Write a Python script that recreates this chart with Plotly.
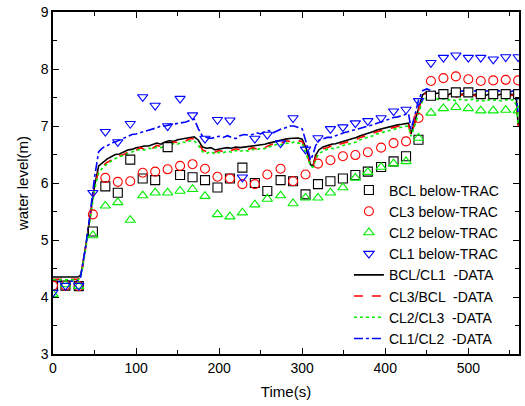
import plotly.graph_objects as go

# ---- marker series (TRAC calculation) ----
t_trac = [0, 15, 31, 48, 63, 78, 93, 108, 123, 138, 153, 168, 183, 198, 213, 228, 243, 258, 274,
          289, 304, 319, 334, 349, 364, 379, 395, 410, 425, 440, 455, 470, 485, 500, 515, 530, 545, 560]
bcl_trac = [4.20, 4.20, 4.19, 5.15, 5.94, 5.83, 6.41, 6.08, 6.05, 6.63, 6.14, 6.10, 6.05, 5.92, 6.08,
            6.27, 6.00, 5.86, 6.05, 6.03, 5.80, 5.98, 6.03, 6.08, 6.14, 6.20, 6.28, 6.38, 6.47, 6.76,
            7.53, 7.56, 7.59, 7.59, 7.56, 7.56, 7.56, 7.56]
cl3_trac = [4.20, 4.20, 4.19, 5.45, 6.09, 6.02, 6.03, 6.18, 6.20, 6.24, 6.30, 6.33, 6.25, 6.11, 6.08,
            5.98, 5.98, 6.15, 6.25, 6.03, 6.15, 6.34, 6.40, 6.47, 6.49, 6.54, 6.62, 6.70, 6.73, 7.14,
            7.79, 7.84, 7.87, 7.82, 7.79, 7.80, 7.81, 7.80]
cl2_trac = [4.05, 4.22, 4.19, 5.08, 5.60, 5.66, 5.35, 5.78, 5.83, 5.83, 5.86, 5.89, 5.77, 5.45, 5.41,
            5.48, 5.62, 5.72, 5.78, 5.64, 5.74, 5.74, 5.83, 5.92, 6.09, 6.19, 6.28, 6.34, 6.38, 6.79,
            7.23, 7.31, 7.33, 7.31, 7.27, 7.27, 7.28, 7.27]
cl1_trac = [4.08, 4.20, 4.20, 5.83, 6.90, 6.72, 7.04, 7.51, 7.36, 7.00, 7.48, 7.19, 6.78, 7.11, 7.10,
            6.10, 6.78, 6.85, 6.70, 7.14, 6.59, 6.79, 6.95, 6.98, 7.05, 7.09, 7.14, 7.26, 7.29, 7.44,
            8.11, 8.20, 8.24, 8.20, 8.20, 8.17, 8.21, 8.21]

# ---- line series (experimental data) ----
t_data = [0, 2, 5, 10, 15, 20, 25, 30, 33, 35, 40, 45, 50, 55, 60, 65, 70, 75, 80, 85, 90, 95,
          100, 105, 110, 115, 120, 125, 130, 135, 140, 145, 150, 155, 160, 165, 170, 175, 180, 185,
          190, 195, 200, 205, 210, 215, 220, 225, 230, 235, 240, 245, 250, 255, 260, 265, 270, 275,
          280, 285, 290, 295, 300, 305, 310, 313, 316, 320, 325, 330, 335, 340, 345, 350, 355, 360,
          365, 370, 375, 380, 385, 390, 395, 400, 405, 410, 415, 420, 425, 428, 431, 435, 440, 445,
          450, 455, 460, 465, 470, 475, 480, 485, 490, 495, 500, 505, 510, 515, 520, 525, 530, 535,
          540, 545, 550, 555, 558, 560]
bcl_cl1 = [4.35, 4.35, 4.35, 4.34, 4.35, 4.35, 4.34, 4.35, 4.38, 4.50, 4.95, 5.45, 5.95, 6.30, 6.36,
           6.42, 6.46, 6.50, 6.51, 6.55, 6.58, 6.59, 6.62, 6.63, 6.65, 6.65, 6.68, 6.70, 6.68, 6.72,
           6.74, 6.73, 6.76, 6.77, 6.79, 6.80, 6.81, 6.75, 6.63, 6.61, 6.62, 6.58, 6.60, 6.61, 6.62,
           6.61, 6.63, 6.62, 6.63, 6.64, 6.65, 6.66, 6.66, 6.68, 6.70, 6.72, 6.74, 6.75, 6.77, 6.78,
           6.78, 6.79, 6.77, 6.60, 6.32, 6.30, 6.48, 6.58, 6.63, 6.66, 6.68, 6.69, 6.71, 6.73, 6.75,
           6.77, 6.80, 6.83, 6.85, 6.88, 6.90, 6.93, 6.95, 6.96, 6.98, 7.00, 7.02, 7.03, 7.05, 7.05,
           6.86, 7.05, 7.30, 7.55, 7.60, 7.58, 7.57, 7.58, 7.56, 7.54, 7.58, 7.52, 7.55, 7.57, 7.55,
           7.54, 7.56, 7.55, 7.53, 7.56, 7.55, 7.54, 7.56, 7.55, 7.56, 7.55, 7.45, 7.02]
cl3_bcl = [4.31, 4.31, 4.31, 4.30, 4.31, 4.31, 4.30, 4.31, 4.36, 4.48, 4.93, 5.43, 5.92, 6.22, 6.30,
           6.36, 6.40, 6.46, 6.48, 6.50, 6.54, 6.57, 6.58, 6.62, 6.59, 6.63, 6.61, 6.66, 6.64, 6.69,
           6.70, 6.72, 6.71, 6.75, 6.74, 6.78, 6.77, 6.70, 6.58, 6.55, 6.58, 6.54, 6.57, 6.55, 6.59,
           6.57, 6.60, 6.58, 6.61, 6.59, 6.62, 6.60, 6.64, 6.62, 6.66, 6.69, 6.71, 6.70, 6.74, 6.73,
           6.76, 6.74, 6.73, 6.55, 6.30, 6.28, 6.44, 6.55, 6.60, 6.62, 6.65, 6.63, 6.68, 6.70, 6.72,
           6.74, 6.76, 6.80, 6.82, 6.85, 6.87, 6.90, 6.92, 6.93, 6.96, 6.97, 7.00, 7.01, 7.03, 7.02,
           6.84, 7.02, 7.28, 7.53, 7.58, 7.55, 7.57, 7.53, 7.56, 7.52, 7.56, 7.50, 7.54, 7.55, 7.53,
           7.55, 7.52, 7.55, 7.51, 7.54, 7.53, 7.55, 7.52, 7.54, 7.53, 7.54, 7.40, 7.00]
cl2_cl3 = [4.30, 4.30, 4.30, 4.29, 4.30, 4.30, 4.29, 4.30, 4.34, 4.46, 4.90, 5.40, 5.88, 6.18, 6.27,
           6.33, 6.38, 6.43, 6.46, 6.49, 6.52, 6.55, 6.57, 6.59, 6.58, 6.61, 6.60, 6.63, 6.62, 6.66,
           6.67, 6.69, 6.68, 6.72, 6.71, 6.74, 6.74, 6.66, 6.55, 6.52, 6.55, 6.51, 6.54, 6.53, 6.56,
           6.54, 6.57, 6.55, 6.58, 6.56, 6.59, 6.58, 6.61, 6.60, 6.63, 6.66, 6.68, 6.67, 6.70, 6.69,
           6.72, 6.70, 6.70, 6.50, 6.30, 6.28, 6.40, 6.52, 6.56, 6.59, 6.61, 6.60, 6.64, 6.66, 6.68,
           6.70, 6.72, 6.76, 6.78, 6.81, 6.83, 6.86, 6.88, 6.90, 6.93, 6.94, 6.97, 6.98, 7.00, 6.99,
           6.82, 6.98, 7.22, 7.45, 7.50, 7.48, 7.49, 7.46, 7.48, 7.45, 7.47, 7.44, 7.47, 7.46, 7.45,
           7.47, 7.44, 7.46, 7.43, 7.46, 7.45, 7.46, 7.44, 7.46, 7.45, 7.46, 7.35, 7.00]
cl1_cl2 = [4.12, 4.27, 4.27, 4.27, 4.27, 4.27, 4.27, 4.28, 4.33, 4.50, 4.95, 5.50, 6.10, 6.55, 6.62,
           6.65, 6.70, 6.72, 6.75, 6.78, 6.82, 6.85, 6.86, 6.88, 6.90, 6.93, 6.95, 6.97, 7.00, 7.00,
           7.02, 7.03, 7.04, 7.05, 7.07, 7.10, 7.12, 6.95, 6.82, 6.80, 6.78, 6.80, 6.82, 6.80, 6.83,
           6.80, 6.78, 6.83, 6.85, 6.84, 6.85, 6.88, 6.86, 6.90, 6.92, 6.88, 6.92, 6.95, 6.97, 7.00,
           7.00, 6.98, 6.95, 6.70, 6.40, 6.50, 6.65, 6.75, 6.78, 6.80, 6.80, 6.83, 6.85, 6.88, 6.90,
           6.92, 6.93, 6.95, 6.97, 7.00, 7.02, 7.05, 7.08, 7.10, 7.12, 7.15, 7.16, 7.18, 7.20, 7.22,
           6.95, 7.15, 7.45, 7.62, 7.65, 7.62, 7.60, 7.62, 7.60, 7.61, 7.62, 7.59, 7.61, 7.62, 7.60,
           7.61, 7.62, 7.60, 7.61, 7.62, 7.60, 7.62, 7.61, 7.62, 7.60, 7.62, 7.50, 7.20]

x_ticks = [0, 100, 200, 300, 400, 500]
y_ticks = [3, 4, 5, 6, 7, 8, 9]

FONT = "Liberation Sans, Arial"

fig = go.Figure()

lines = [
    ("BCL/CL1  -DATA", bcl_cl1, "#000000", "solid"),
    ("CL3/BCL  -DATA", cl3_bcl, "#ff0000", "dash"),
    ("CL2/CL3  -DATA", cl2_cl3, "#00ee00", "dot"),
    ("CL1/CL2  -DATA", cl1_cl2, "#0000ff", "dashdot"),
]
for i, (name, ys, col, dash) in enumerate(lines):
    fig.add_trace(go.Scatter(x=t_data, y=ys, mode="lines", name=name, legendrank=10 + i,
                             line=dict(color=col, width=1.6, dash=dash)))

markers = [
    ("BCL below-TRAC", bcl_trac, "#000000", "square", "white"),
    ("CL3 below-TRAC", cl3_trac, "#ff0000", "circle-open", None),
    ("CL2 below-TRAC", cl2_trac, "#00ee00", "triangle-up-open", None),
    ("CL1 below-TRAC", cl1_trac, "#0000ff", "triangle-down-open", None),
]
for i, (name, ys, col, sym, fill) in enumerate(markers):
    mk = dict(symbol=sym, size=9, line=dict(color=col, width=1.1))
    mk["color"] = fill if fill else col
    fig.add_trace(go.Scatter(x=t_trac, y=ys, mode="markers", name=name, legendrank=1 + i,
                             marker=mk))

axis_common = dict(showline=True, linecolor="black", linewidth=1.5, mirror="allticks",
                   ticks="inside", ticklen=6, tickwidth=1.2, tickcolor="black",
                   showgrid=False, zeroline=False,
                   tickfont=dict(family=FONT, size=14, color="black"))

fig.update_xaxes(range=[0, 561], tickvals=x_ticks, ticktext=[str(v) for v in x_ticks],
                 minor=dict(dtick=50, tick0=0, ticks="inside", ticklen=4, tickcolor="black",
                            showgrid=False),
                 title=dict(text="Time(s)", font=dict(family=FONT, size=15, color="black"),
                            standoff=12),
                 **axis_common)
fig.update_yaxes(range=[3, 9], tickvals=y_ticks, ticktext=[str(v) for v in y_ticks],
                 minor=dict(dtick=0.5, tick0=0, ticks="inside", ticklen=4, tickcolor="black",
                            showgrid=False),
                 title=dict(text="water level(m)", font=dict(family=FONT, size=15, color="black"),
                            standoff=8),
                 **axis_common)

fig.update_layout(
    width=525, height=406,
    margin=dict(l=53, r=4, t=10, b=52),
    plot_bgcolor="white", paper_bgcolor="white",
    legend=dict(x=0.635, y=0.525, xanchor="left", yanchor="top", bgcolor="rgba(0,0,0,0)",
                font=dict(family=FONT, size=14, color="black"),
                tracegroupgap=0, itemwidth=30),
    showlegend=True,
)

fig.write_html("out.html")
